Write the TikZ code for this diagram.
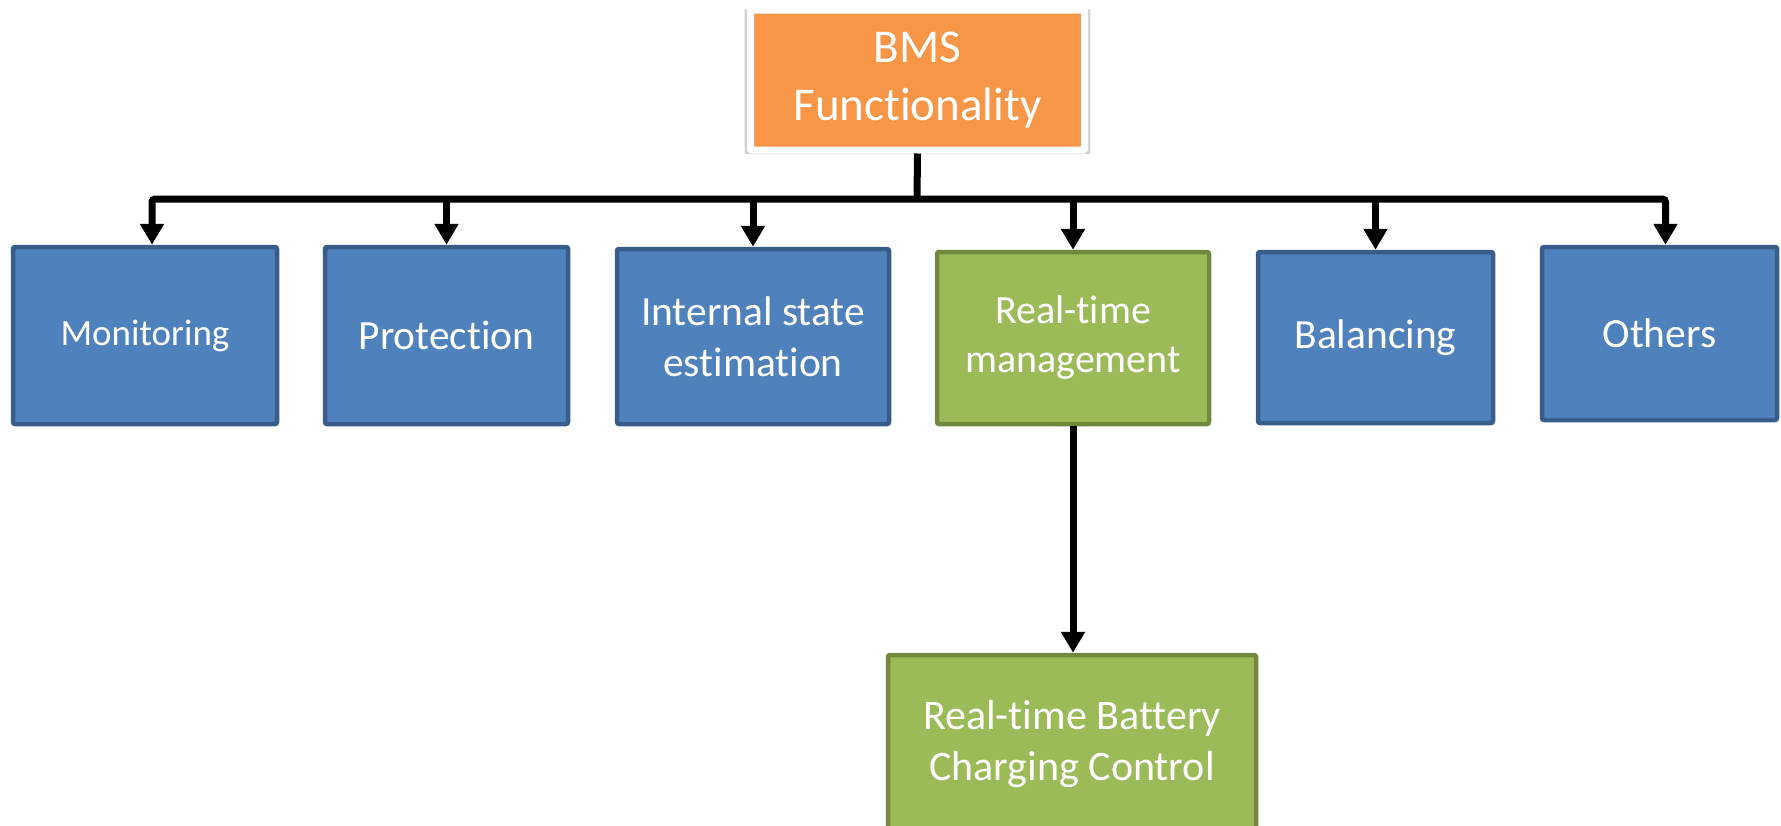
\documentclass[tikz,border=0pt]{standalone}
\usepackage{fontspec}
\setmainfont{Carlito}[Ligatures=NoCommon]
\usetikzlibrary{arrows.meta, shadows}

\definecolor{bmsorange}{HTML}{F79646}
\definecolor{bmsblue}{HTML}{4F81BD}
\definecolor{bmsblueline}{HTML}{385D8A}
\definecolor{bmsgreen}{HTML}{9BBB59}
\definecolor{bmsgreenline}{HTML}{71893F}

\begin{document}
\begin{tikzpicture}[x=1pt, y=-1pt,
    box/.style={draw=bmsblueline, fill=bmsblue, line width=4.5pt, rounded corners=2pt, align=center, inner sep=0pt, text=white, font=\fontsize{41.5}{50.5}\selectfont},
    greenbox/.style={box, draw=bmsgreenline, fill=bmsgreen},
    topbox/.style={box, draw=white, fill=bmsorange, line width=7pt, rounded corners=1pt, font=\fontsize{47}{58}\selectfont,
                   drop shadow={shadow xshift=0pt, shadow yshift=-1.5pt, shadow scale=1.035, fill=black!40, opacity=0.45}},
    arr/.style={-{Triangle[length=21pt, width=23pt]}, line width=7pt}]
    \clip (0,0) rectangle (1781,825);
    \node[topbox, minimum width=334pt, minimum height=140pt] (bms) at (917.5,80) {BMS\\Functionality};
    \node[box, minimum width=264pt, minimum height=177pt, font=\fontsize{37}{45}\selectfont] (mon) at (145,335.5) {Monitoring};
    \node[box, minimum width=243pt, minimum height=177pt] (prot) at (446.5,335.5) {Protection};
    \node[box, minimum width=272pt, minimum height=175pt] (ise) at (753,336.5) {Internal state\\estimation};
    \node[greenbox, minimum width=272pt, minimum height=172pt, font=\fontsize{40}{49}\selectfont] (rtm) at (1073,338) {Real-time\\management};
    \node[box, minimum width=235pt, minimum height=171pt] (bal) at (1375.5,337.5) {Balancing};
    \node[box, minimum width=235pt, minimum height=173pt] (oth) at (1659.5,333.5) {Others};
    \node[greenbox, minimum width=368pt, minimum height=178pt, font=\fontsize{42}{51}\selectfont] (rtc) at (1072,744) {Real-time Battery\\Charging Control};
    \coordinate (bus) at (917,199);
    \draw[line width=7pt] (bms.south) -- (bus);
    \draw[arr, rounded corners=3pt] (bus) -| ([xshift=7pt]mon.north);
    \draw[arr, rounded corners=3pt] (bus) -| ([xshift=6pt]oth.north);
    \draw[arr] (bus -| prot.north) -- (prot.north);
    \draw[arr] (bus -| ise.north) -- (ise.north);
    \draw[arr] (bus -| rtm.north) -- (rtm.north);
    \draw[arr] (bus -| bal.north) -- (bal.north);
    \draw[arr] (rtm.south) -- (rtm.south |- rtc.north);
\end{tikzpicture}
\end{document}
